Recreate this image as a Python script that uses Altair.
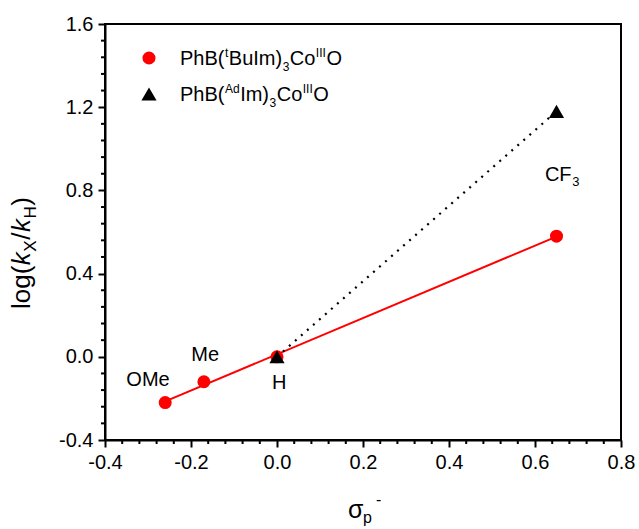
import altair as alt
import pandas as pd

FONT = "Liberation Sans"

# ---- data ----
sigma_red = [-0.26, -0.17, 0.0, 0.65]
logk_red = [-0.22, -0.12, 0.0, 0.58]
sigma_black = [0.0, 0.65]
logk_black = [0.0, 1.18]

lab_text = ["OMe", "Me", "H", "CF"]
lab_x = [-0.30, -0.167, 0.005, 0.654]
lab_y = [-0.112, 0.01, -0.126, 0.874]

x_major = [-0.4, -0.2, 0.0, 0.2, 0.4, 0.6, 0.8]
y_major = [-0.4, 0.0, 0.4, 0.8, 1.2, 1.6]
x_minor = [round(-0.4 + 0.04 * i, 2) for i in range(31) if i % 5 != 0]
y_minor = [round(-0.4 + 0.08 * i, 2) for i in range(26) if i % 5 != 0]

W, H = 516, 416

red = pd.DataFrame({"x": sigma_red, "y": logk_red})
black = pd.DataFrame({"x": sigma_black, "y": logk_black})
labs = pd.DataFrame({"x": lab_x, "y": lab_y, "t": lab_text})


def mk_axis(vals, orient):
    return alt.Axis(
        values=vals,
        orient=orient,
        title=None,
        grid=False,
        labelExpr="replace(format(datum.value, '.1f'), '\u2212', '-')",
        tickSize=7,
        labelOverlap=False,
        labelFlush=False,
        labelFont=FONT,
        labelFontSize=20,
        labelColor="black",
        labelPadding=5,
        domainColor="black",
        domainWidth=2,
        tickColor="black",
        tickWidth=2,
    )


xs = alt.Scale(domain=[-0.4, 0.8], nice=False, zero=False)
ys = alt.Scale(domain=[-0.4, 1.6], nice=False, zero=False)

X = alt.X("x:Q", scale=xs, axis=mk_axis(x_major, "bottom"))
Y = alt.Y("y:Q", scale=ys, axis=mk_axis(y_major, "left"))
Xn = alt.X("x:Q", scale=xs)
Yn = alt.Y("y:Q", scale=ys)

xminor = alt.Chart(pd.DataFrame({"x": x_minor})).mark_rule(
    color="black", strokeWidth=2
).encode(x=Xn, y=alt.value(H), y2=alt.value(H + 4))
yminor = alt.Chart(pd.DataFrame({"y": y_minor})).mark_rule(
    color="black", strokeWidth=2
).encode(y=Yn, x=alt.value(0), x2=alt.value(-4))

red_line = alt.Chart(red).transform_regression("x", "y").mark_line(
    color="#ff0000", strokeWidth=2
).encode(x=X, y=Y)

black_line = alt.Chart(black).mark_line(
    color="black", strokeWidth=2.2, strokeDash=[2, 6]
).encode(x=Xn, y=Yn)

red_pts = alt.Chart(red).mark_point(
    shape="circle", filled=True, color="#ff0000", size=170, opacity=1
).encode(x=Xn, y=Yn)

black_pts = alt.Chart(black).mark_point(
    shape="triangle-up", filled=True, color="black", size=230, opacity=1
).encode(x=Xn, y=Yn)

labels = alt.Chart(labs).mark_text(
    font=FONT, fontSize=20, color="black", align="center", baseline="middle"
).encode(x=Xn, y=Yn, text="t:N")

cf_sub = alt.Chart(labs[labs.t == "CF"]).mark_text(
    font=FONT, fontSize=13, color="black", align="left", baseline="middle", dx=14, dy=7
).encode(x=Xn, y=Yn, text=alt.value("3"))


def txt(s, px, py, fs, style="normal", angle=0, color="black"):
    return alt.Chart(pd.DataFrame({"t": [s]})).mark_text(
        font=FONT, fontSize=fs, fontStyle=style, angle=angle, color=color,
        align="left", baseline="alphabetic"
    ).encode(x=alt.value(px), y=alt.value(py), text="t:N")


# Arial advance widths (per 1000 em)
AW = {"P": 667, "h": 556, "B": 667, "(": 333, ")": 333, "t": 278, "u": 556, "I": 278,
      "m": 833, "3": 556, "C": 722, "o": 556, "O": 778, "A": 667, "d": 556, "l": 222,
      "g": 556, "k": 500, "X": 667, "/": 278, "H": 722}


def width(s, fs):
    return sum(AW.get(c, 556) for c in s) * fs / 1000.0


def run(pieces, x0, base, angle=0):
    """pieces: (text, fontsize, shift, style)."""
    out = []
    pos = x0
    for s, fs, sh, st in pieces:
        if angle == 0:
            out.append(txt(s, pos, base + sh, fs, st))
            pos += width(s, fs) + 0.5
        else:
            out.append(txt(s, base + sh, pos, fs, st, angle=270))
            pos -= width(s, fs) + 0.5
    return out


leg1 = [("PhB(", 20, 0, "normal"), ("t", 12, -8, "normal"), ("BuIm)", 20, 0, "normal"),
        ("3", 12, 6, "normal"), ("Co", 20, 0, "normal"), ("III", 12, -8, "normal"),
        ("O", 20, 0, "normal")]
leg2 = [("PhB(", 20, 0, "normal"), ("Ad", 12, -8, "normal"), ("Im)", 20, 0, "normal"),
        ("3", 12, 6, "normal"), ("Co", 20, 0, "normal"), ("III", 12, -8, "normal"),
        ("O", 20, 0, "normal")]

legend_layers = run(leg1, 75, 41) + run(leg2, 75, 77)
legend_marks = [
    alt.Chart(pd.DataFrame({"t": [0]})).mark_point(
        shape="circle", filled=True, color="#ff0000", size=170, opacity=1
    ).encode(x=alt.value(44), y=alt.value(34)),
    alt.Chart(pd.DataFrame({"t": [0]})).mark_point(
        shape="triangle-up", filled=True, color="black", size=230, opacity=1
    ).encode(x=alt.value(44), y=alt.value(70)),
]

ytitle = [("log(", 26, 0, "normal"), ("k", 26, 0, "italic"), ("X", 17, 6, "normal"),
          ("/", 26, 0, "normal"), ("k", 26, 0, "italic"), ("H", 17, 6, "normal"),
          (")", 26, 0, "normal")]
ytitle_layers = run(ytitle, 285, -75, angle=270)

xtitle_layers = [
    txt("σ", 243, 494, 25),
    txt("p", 258, 499, 16),
    txt("-", 271, 481, 16),
]

chart = alt.layer(
    red_line, xminor, yminor, black_line, red_pts, black_pts, labels, cf_sub,
    *legend_marks, *legend_layers, *ytitle_layers, *xtitle_layers
).properties(
    width=W, height=H,
    autosize=alt.AutoSizeParams(type="none"),
    padding={"left": 105, "top": 24, "right": 18, "bottom": 89},
    background="white",
).configure_view(stroke="black", strokeWidth=2)

chart.save("out.html", embed_options={"renderer": "svg", "actions": False})
